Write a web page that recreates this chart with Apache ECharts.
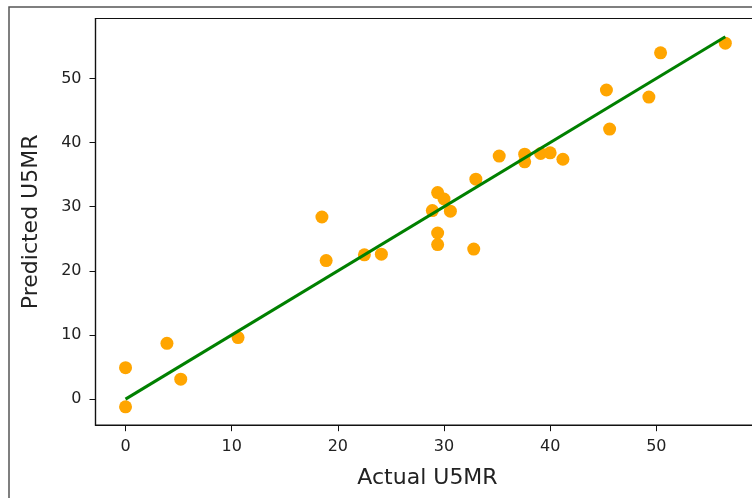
<!DOCTYPE html>
<html>
<head>
<meta charset="utf-8">
<title>Actual vs Predicted U5MR</title>
<script src="https://cdn.jsdelivr.net/npm/echarts@6/dist/echarts.min.js"></script>
<style>
  html, body { margin: 0; padding: 0; background: #fff; }
  #chart { width: 752px; height: 498px; }
</style>
</head>
<body>
<div id="chart"></div>
<script>
// actual vs predicted values
var actual = [0, 0, 3.9, 5.2, 10.6, 18.5, 18.9, 22.5, 24.1, 28.9, 29.4, 30.0, 30.6, 29.4, 29.4,
              32.8, 33.0, 35.2, 37.6, 37.6, 39.1, 40.0, 41.2, 45.3, 45.6, 49.3, 50.4, 56.5];
var predicted = [-1.2, 4.9, 8.7, 3.1, 9.6, 28.4, 21.6, 22.5, 22.6, 29.4, 32.2, 31.2, 29.3, 25.9, 24.1,
                 23.4, 34.3, 37.9, 38.2, 37.0, 38.3, 38.4, 37.4, 48.2, 42.1, 47.1, 54.0, 55.5];
// the y = x reference line
var lineX = [0, 56.5];
var lineY = [0, 56.5];
var tickValues = [0, 10, 20, 30, 40, 50];

var points = actual.map(function (a, i) { return [a, predicted[i]]; });
var linePts = lineX.map(function (a, i) { return [a, lineY[i]]; });

var chart = echarts.init(document.getElementById('chart'));
var tickFont = { fontFamily: 'DejaVu Sans', fontSize: 16, color: '#222' };

chart.setOption({
  animation: false,
  backgroundColor: '#fff',
  graphic: [{
    type: 'rect',
    shape: { x: 9, y: 7, width: 800, height: 600 },
    style: { fill: 'none', stroke: '#555', lineWidth: 1.5 },
    silent: true
  }],
  grid: {
    left: 95.5, top: 18.5, width: 664, height: 406.7,
    show: true, borderColor: '#111', borderWidth: 1.2,
    containLabel: false, outerBoundsMode: 'none'
  },
  xAxis: {
    type: 'value', min: -2.83, max: 59.72,
    name: 'Actual U5MR', nameLocation: 'middle', nameGap: 42,
    nameTextStyle: { fontFamily: 'DejaVu Sans', fontSize: 22, color: '#222' },
    splitLine: { show: false },
    axisLine: { show: true, onZero: false, lineStyle: { color: '#111', width: 1.2 } },
    axisTick: { show: true, inside: false, length: 6, customValues: tickValues, lineStyle: { color: '#111' } },
    axisLabel: Object.assign({ margin: 14, customValues: tickValues }, tickFont)
  },
  yAxis: {
    type: 'value', min: -4.07, max: 59.35,
    name: 'Predicted U5MR', nameLocation: 'middle', nameGap: 53,
    nameTextStyle: { fontFamily: 'DejaVu Sans', fontSize: 22, color: '#222' },
    splitLine: { show: false },
    axisLine: { show: true, onZero: false, lineStyle: { color: '#111', width: 1.2 } },
    axisTick: { show: true, inside: false, length: 6, customValues: tickValues, lineStyle: { color: '#111' } },
    axisLabel: Object.assign({ margin: 14, customValues: tickValues }, tickFont)
  },
  series: [
    {
      type: 'scatter',
      data: points,
      symbolSize: 13,
      itemStyle: { color: '#ffa500', opacity: 1 },
      z: 2
    },
    {
      type: 'line',
      data: linePts,
      showSymbol: false,
      lineStyle: { color: '#008000', width: 3 },
      z: 3
    }
  ]
});
</script>
</body>
</html>
